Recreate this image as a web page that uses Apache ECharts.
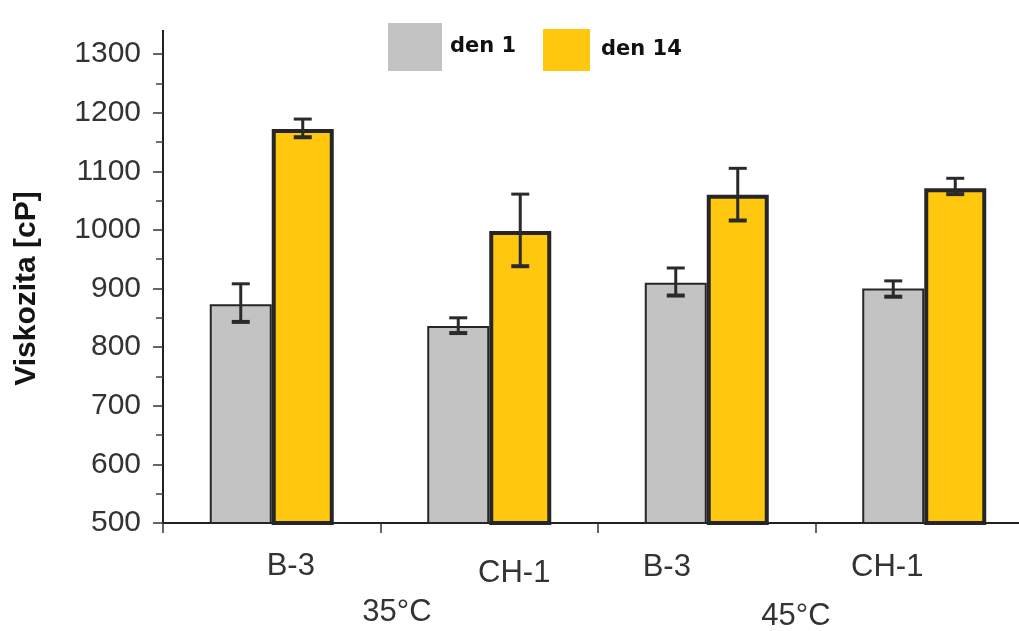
<!DOCTYPE html>
<html>
<head>
<meta charset="utf-8">
<script src="https://cdn.jsdelivr.net/npm/echarts@6/dist/echarts.min.js"></script>
<style>
html,body{margin:0;padding:0;background:#fff;}
#chart{width:1019px;height:631px;}
</style>
</head>
<body>
<div id="chart"></div>
<script>
// ---- data ----
const categories = ['B-3 35', 'CH-1 35', 'B-3 45', 'CH-1 45'];
const sampleLabels = ['B-3', 'CH-1', 'B-3', 'CH-1'];
const groupLabels = ['35°C', '45°C'];
const seriesNames = ['den 1', 'den 14'];
const den1 = [873, 836, 910, 900];
const den14 = [1172, 998, 1060, 1071];
const den1Low = [843, 824, 888, 886];
const den1High = [908, 850, 935, 913];
const den14Low = [1158, 938, 1016, 1061];
const den14High = [1189, 1061, 1105, 1088];
const yTicks = {min: 500, max: 1300, interval: 100};

// ---- style ----
const GRAY = '#c3c3c3';
const YELLOW = '#ffc80e';
const EDGE = '#262626';
const BAR_W = 62;
const FONT = '"Liberation Sans", Arial, sans-serif';

function errData(lo, hi) {
  return lo.map((v, i) => [i, v, hi[i]]);
}
function errRender(offset) {
  return function (params, api) {
    const i = api.value(0);
    const top = api.coord([i, api.value(2)]);
    const bot = api.coord([i, api.value(1)]);
    const cx = top[0] + offset;
    const hw = 9;
    const style = {stroke: '#2a2a2a', lineWidth: 3};
    return {
      type: 'group',
      children: [
        {type: 'line', shape: {x1: cx, y1: top[1], x2: cx, y2: bot[1]}, style},
        {type: 'line', shape: {x1: cx - hw, y1: top[1], x2: cx + hw, y2: top[1]}, style},
        {type: 'line', shape: {x1: cx - hw, y1: bot[1], x2: cx + hw, y2: bot[1]}, style: {stroke: '#2a2a2a', lineWidth: 4}}
      ]
    };
  };
}

const chart = echarts.init(document.getElementById('chart'), null, {renderer: 'canvas'});
const legendText = {fontFamily: '"DejaVu Sans", Verdana, sans-serif', fontWeight: 'bold', fontSize: 21, color: '#111'};
const option = {
  animation: false,
  backgroundColor: '#ffffff',
  grid: {left: 163, top: 54, width: 870, height: 469, containLabel: false, outerBoundsMode: 'none'},
  legend: [
    {
      data: [seriesNames[0]], left: 383, top: 18, itemWidth: 54, itemHeight: 48,
      icon: 'rect', itemStyle: {borderWidth: 0},
      textStyle: Object.assign({padding: [8, 0, 0, 3]}, legendText)
    },
    {
      data: [seriesNames[1]], left: 538, top: 24, itemWidth: 47, itemHeight: 42,
      icon: 'rect', itemStyle: {borderWidth: 0},
      textStyle: Object.assign({padding: [4, 0, 0, 6]}, legendText)
    }
  ],
  xAxis: {
    type: 'category',
    data: categories,
    boundaryGap: true,
    axisLine: {show: true, lineStyle: {color: '#222', width: 2}},
    axisTick: {show: true, length: 10, lineStyle: {color: '#333', width: 1.5}},
    axisLabel: {show: false},
    splitLine: {show: false}
  },
  yAxis: {
    type: 'value',
    min: yTicks.min, max: yTicks.max, interval: yTicks.interval,
    name: 'Viskozita [cP]',
    nameLocation: 'middle',
    nameGap: 121,
    nameRotate: 90,
    nameTextStyle: {fontFamily: FONT, fontWeight: 'bold', fontSize: 30, color: '#141414'},
    axisLine: {show: true, lineStyle: {color: '#222', width: 2}},
    axisTick: {show: true, length: 10, lineStyle: {color: '#333', width: 1.5}},
    minorTick: {show: true, splitNumber: 2, length: 7, lineStyle: {color: '#444', width: 1.5}},
    axisLabel: {fontFamily: FONT, fontSize: 30, color: '#333', margin: 22, formatter: v => String(v)},
    splitLine: {show: false}
  },
  series: [
    {
      name: seriesNames[0], type: 'bar', data: den1, barWidth: BAR_W, barGap: '0%',
      itemStyle: {color: GRAY, borderColor: EDGE, borderWidth: 2}, z: 2
    },
    {
      name: seriesNames[1], type: 'bar', data: den14, barWidth: BAR_W, barGap: '0%',
      itemStyle: {color: YELLOW, borderColor: EDGE, borderWidth: 4}, z: 3
    },
    {
      name: 'err1', type: 'custom', data: errData(den1Low, den1High),
      encode: {x: 0, y: [1, 2]}, renderItem: errRender(-BAR_W / 2), z: 5
    },
    {
      name: 'err14', type: 'custom', data: errData(den14Low, den14High),
      encode: {x: 0, y: [1, 2]}, renderItem: errRender(BAR_W / 2), z: 5
    }
  ]
};
chart.setOption(option);

// category labels (offsets from category centres as in the original figure)
const labelOffsets = [[19, 43], [25, 50], [-40, 44], [-37, 44]];
const groupPos = [[397, 612], [796, 616]];
const graphics = [];
sampleLabels.forEach((t, i) => {
  const p = chart.convertToPixel({xAxisIndex: 0, yAxisIndex: 0}, [i, yTicks.min]);
  graphics.push({
    type: 'text', x: p[0] + labelOffsets[i][0], y: p[1] + labelOffsets[i][1],
    style: {text: t, font: '31px ' + FONT, fill: '#333', textAlign: 'center', textVerticalAlign: 'middle'}
  });
});
groupLabels.forEach((t, i) => {
  graphics.push({
    type: 'text', x: groupPos[i][0], y: groupPos[i][1],
    style: {text: t, font: '31px ' + FONT, fill: '#333', textAlign: 'center', textVerticalAlign: 'middle'}
  });
});
// axis line continues a little above the top tick
const topPt = chart.convertToPixel({xAxisIndex: 0, yAxisIndex: 0}, [0, yTicks.max]);
graphics.push({
  type: 'line', shape: {x1: 163, y1: topPt[1] - 24, x2: 163, y2: topPt[1]},
  style: {stroke: '#222', lineWidth: 2}
});
chart.setOption({graphic: graphics});
</script>
</body>
</html>
